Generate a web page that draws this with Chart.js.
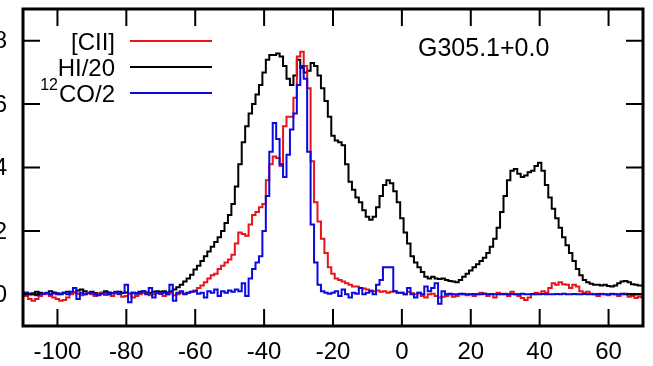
<!DOCTYPE html>
<html>
<head>
<meta charset="utf-8">
<script src="https://cdn.jsdelivr.net/npm/chart.js@4.4.0/dist/chart.umd.min.js"></script>
<style>
  html, body { margin: 0; padding: 0; background: #fff; }
  #wrap { position: relative; width: 653px; height: 366px; overflow: hidden; }
  #inner { position: absolute; left: -14px; top: 0; width: 667px; height: 366px; }
</style>
</head>
<body>
<div id="wrap"><div id="inner"><canvas id="spec"></canvas></div></div>
<script>
// velocity channels (km/s)
const velocities = [
  -110, -109, -108, -107, -106, -105, -104, -103, -102, -101,
  -100, -99, -98, -97, -96, -95, -94, -93, -92, -91,
  -90, -89, -88, -87, -86, -85, -84, -83, -82, -81,
  -80, -79, -78, -77, -76, -75, -74, -73, -72, -71,
  -70, -69, -68, -67, -66, -65, -64, -63, -62, -61,
  -60, -59, -58, -57, -56, -55, -54, -53, -52, -51,
  -50, -49, -48, -47, -46, -45, -44, -43, -42, -41,
  -40, -39, -38, -37, -36, -35, -34, -33, -32, -31,
  -30, -29, -28, -27, -26, -25, -24, -23, -22, -21,
  -20, -19, -18, -17, -16, -15, -14, -13, -12, -11,
  -10, -9, -8, -7, -6, -5, -4, -3, -2, -1,
  0, 1, 2, 3, 4, 5, 6, 7, 8, 9,
  10, 11, 12, 13, 14, 15, 16, 17, 18, 19,
  20, 21, 22, 23, 24, 25, 26, 27, 28, 29,
  30, 31, 32, 33, 34, 35, 36, 37, 38, 39,
  40, 41, 42, 43, 44, 45, 46, 47, 48, 49,
  50, 51, 52, 53, 54, 55, 56, 57, 58, 59,
  60, 61, 62, 63, 64, 65, 66, 67, 68, 69,
  70
];

// [CII]
const ciiValues = [
  0.05, -0.05, -0.15, -0.2, -0.15, -0.05, 0.0, 0.02, -0.05, -0.1,
  -0.15, -0.2, -0.18, -0.1, 0.0, 0.05, 0.02, -0.03, 0.0, 0.05,
  0.0, -0.05, 0.02, 0.05, -0.02, 0.0, -0.05, 0.03, 0.0, -0.08,
  -0.05, 0.02, -0.1, -0.05, 0.0, 0.05, 0.02, -0.03, 0.0, 0.05,
  0.02, -0.05, 0.0, 0.05, -0.03, 0.0, 0.05, 0.02, 0.05, 0.08,
  0.12, 0.2, 0.28, 0.38, 0.5, 0.6, 0.65, 0.8, 0.9, 1.0,
  1.1, 1.25, 1.6, 1.95, 1.9, 1.85, 2.2, 2.5, 2.6, 2.75,
  2.85, 3.6, 4.1, 4.35, 4.3, 4.05, 5.3, 5.6, 5.6, 6.2,
  7.5, 7.65, 7.2, 6.5, 4.2, 2.9, 2.3, 1.75, 1.3, 0.85,
  0.65, 0.5, 0.45, 0.4, 0.35, 0.3, 0.25, 0.25, 0.2, 0.18,
  0.15, 0.12, 0.1, 0.12, 0.08, 0.1, 0.05, 0.08, 0.1, 0.05,
  0.05, 0.0, 0.08, 0.03, 0.0, 0.05, -0.05, -0.1, 0.0, 0.02,
  -0.05, -0.1, -0.08, -0.05, 0.0, -0.08, -0.05, 0.0, 0.02, -0.03,
  0.0, -0.05, 0.0, 0.05, 0.02, -0.05, 0.0, -0.1, 0.05, 0.0,
  0.02, -0.05, 0.08, 0.0, -0.05, -0.12, -0.18, -0.1, 0.0, 0.05,
  0.02, 0.1, 0.05, 0.2, 0.35, 0.3, 0.38, 0.32, 0.3, 0.2,
  0.3, 0.25, 0.1, 0.05, 0.08, 0.02, 0.0, -0.05, 0.02, 0.0,
  -0.03, 0.02, 0.0, -0.05, 0.0, 0.02, -0.08, -0.05, -0.12, -0.08,
  -0.1
];

// HI/20
const hiValues = [
  0.02, 0.05, 0.0, 0.03, 0.08, 0.05, 0.02, 0.04, 0.1, 0.06,
  0.03, 0.0, 0.05, 0.08, 0.02, 0.06, 0.12, 0.15, 0.1, 0.05,
  0.08, 0.04, 0.02, 0.05, 0.1, 0.06, 0.03, 0.05, 0.08, 0.04,
  0.06, 0.02, 0.05, 0.03, 0.08, 0.1, 0.06, 0.04, 0.08, 0.1,
  0.08, 0.1, 0.06, 0.1, 0.15, 0.22, 0.3, 0.4, 0.5, 0.62,
  0.78, 0.9, 1.05, 1.2, 1.35, 1.5, 1.65, 1.8, 2.0, 2.25,
  2.5, 2.85, 3.4, 4.1, 4.8, 5.3, 5.7, 6.0, 6.3, 6.6,
  7.0, 7.4, 7.55, 7.55, 7.6, 7.5, 7.2, 6.8, 6.6, 6.9,
  7.4, 7.15, 7.0, 7.05, 7.3, 7.2, 6.9, 6.5, 6.1, 5.6,
  5.0, 4.85, 4.8, 4.7, 4.1, 3.55, 3.3, 3.05, 2.9, 2.65,
  2.45, 2.35, 2.45, 2.75, 3.1, 3.45, 3.6, 3.5, 3.25, 2.9,
  2.4, 1.95, 1.6, 1.2, 1.0, 0.85, 0.7, 0.55, 0.5, 0.55,
  0.5, 0.48, 0.5, 0.45, 0.42, 0.4, 0.38, 0.45, 0.55, 0.65,
  0.75, 0.85, 0.95, 1.05, 1.15, 1.3, 1.5, 1.75, 2.1, 2.6,
  3.1, 3.6, 3.9, 3.95, 3.8, 3.7, 3.75, 3.85, 3.9, 4.05,
  4.15, 3.9, 3.45, 3.05, 2.7, 2.4, 2.1, 1.8, 1.55, 1.3,
  1.05, 0.8, 0.6, 0.45, 0.38, 0.33, 0.3, 0.3, 0.28, 0.3,
  0.26, 0.25, 0.28, 0.35, 0.4, 0.42, 0.38, 0.32, 0.3, 0.28,
  0.28
];

// 12CO/2
const coValues = [
  0.0, 0.05, 0.02, 0.0, -0.03, 0.0, 0.02, 0.05, 0.0, 0.03,
  0.0, 0.02, 0.05, 0.0, 0.08, 0.2, -0.15, 0.05, 0.0, 0.03,
  0.05, 0.0, -0.03, 0.02, 0.05, 0.0, 0.03, 0.08, 0.02, 0.05,
  0.3, -0.25, 0.05, 0.02, 0.05, 0.1, 0.0, 0.2, -0.1, 0.05,
  0.02, 0.05, 0.0, 0.3, -0.2, 0.05, 0.1, 0.0, 0.05, 0.08,
  0.1, 0.02, 0.05, -0.1, 0.1, 0.05, 0.15, -0.05, 0.1, 0.05,
  0.12, 0.08, 0.15, 0.1, 0.35, -0.05, 0.5, 0.8, 1.0, 1.2,
  2.0, 3.1, 4.5, 5.4, 4.9, 4.1, 3.7, 4.4, 5.2, 5.7,
  6.6, 7.2, 6.8, 4.5, 2.2, 1.0, 0.3, 0.1, 0.05, 0.02,
  0.05, 0.1, -0.05, 0.15, 0.0, -0.1, 0.05, 0.02, 0.2, 0.0,
  0.05, 0.1, 0.0, 0.3, 0.45, 0.85, 0.85, 0.85, 0.1, 0.05,
  0.05, 0.0, 0.2, 0.0, -0.1, 0.05, 0.0, 0.25, 0.1, 0.2,
  0.35, -0.3, 0.1, 0.0, 0.02, 0.0, 0.0, 0.02, 0.0, 0.0,
  0.0, 0.01, 0.0, 0.0, 0.02, 0.0, 0.01, 0.0, 0.0, 0.01,
  0.0, 0.0, 0.01, 0.0, 0.0, 0.02, 0.0, 0.0, 0.01, 0.0,
  0.0, 0.01, 0.0, 0.0, 0.0, 0.01, 0.0, 0.02, 0.0, 0.0,
  0.01, 0.0, 0.0, 0.01, 0.0, 0.0, 0.0, 0.01, 0.0, 0.0,
  0.0, 0.01, 0.0, 0.0, 0.02, 0.0, 0.0, 0.01, 0.0, 0.0,
  0.0
];

const xTickValues = [-100, -80, -60, -40, -20, 0, 20, 40, 60];
const yTickValues = [0, 2, 4, 6, 8];
const seriesLabels = ['[CII]', 'HI/20', 'CO/2'];
const coPrefix = '12';
const regionLabel = 'G305.1+0.0';

const FONT = '"Liberation Sans", Arial, Helvetica, sans-serif';
const SHIFT = 14; // canvas sits this far left of the page, so the y labels get cut like the original

const toPoints = values => velocities.map((v, i) => ({ x: v, y: values[i] }));

// box frame with inward ticks on all four sides, plus the y tick labels
const framePlugin = {
  id: 'frame',
  afterDraw(chart) {
    const { ctx, chartArea: a, scales: { x, y } } = chart;
    const len = 17;
    ctx.save();
    ctx.strokeStyle = '#000';
    ctx.lineWidth = 2;
    ctx.beginPath();
    x.ticks.forEach(t => {
      const px = x.getPixelForValue(t.value);
      ctx.moveTo(px, a.bottom); ctx.lineTo(px, a.bottom - len);
      ctx.moveTo(px, a.top); ctx.lineTo(px, a.top + len);
    });
    y.ticks.forEach(t => {
      const py = y.getPixelForValue(t.value);
      ctx.moveTo(a.left, py); ctx.lineTo(a.left + len, py);
      ctx.moveTo(a.right, py); ctx.lineTo(a.right - len, py);
    });
    ctx.stroke();
    ctx.lineWidth = 3;
    ctx.strokeRect(a.left, a.top, a.right - a.left, a.bottom - a.top);

    ctx.fillStyle = '#000';
    ctx.font = '24px ' + FONT;
    ctx.textAlign = 'right';
    ctx.textBaseline = 'middle';
    y.ticks.forEach(t => {
      ctx.fillText(String(t.value), a.left - 16, y.getPixelForValue(t.value) + 1);
    });
    ctx.restore();
  }
};

// legend: right-aligned text with a line sample after it, plus the region name
const notesPlugin = {
  id: 'notes',
  afterDraw(chart) {
    const ctx = chart.ctx;
    const rowsY = [41, 67, 93];
    const textRight = 115 + SHIFT;
    ctx.save();
    ctx.textBaseline = 'middle';
    ctx.textAlign = 'right';
    chart.data.datasets.forEach((ds, row) => {
      const yy = rowsY[row];
      ctx.font = '24px ' + FONT;
      ctx.fillStyle = '#000';
      ctx.fillText(seriesLabels[row], textRight, yy + 2);
      if (row === 2) {
        const w = ctx.measureText(seriesLabels[row]).width;
        ctx.font = '16px ' + FONT;
        ctx.fillText(coPrefix, textRight - w - 1, yy - 7);
      }
      ctx.strokeStyle = ds.borderColor;
      ctx.lineWidth = 2;
      ctx.beginPath();
      ctx.moveTo(130 + SHIFT, yy);
      ctx.lineTo(212 + SHIFT, yy);
      ctx.stroke();
    });
    ctx.textAlign = 'left';
    ctx.textBaseline = 'alphabetic';
    ctx.font = '25px ' + FONT;
    ctx.fillStyle = '#000';
    ctx.fillText(regionLabel, 418 + SHIFT, 56);
    ctx.restore();
  }
};

const ctxEl = document.getElementById('spec');
new Chart(ctxEl, {
  type: 'line',
  data: {
    datasets: [
      {
        label: '[CII]',
        data: toPoints(ciiValues),
        borderColor: '#e8141a',
        borderWidth: 2,
        stepped: 'middle',
        pointRadius: 0,
        order: 1
      },
      {
        label: 'HI/20',
        data: toPoints(hiValues),
        borderColor: '#000000',
        borderWidth: 2,
        stepped: 'middle',
        pointRadius: 0,
        order: 2
      },
      {
        label: '12CO/2',
        data: toPoints(coValues),
        borderColor: '#0a0ae0',
        borderWidth: 2,
        stepped: 'middle',
        pointRadius: 0,
        order: 0
      }
    ]
  },
  options: {
    responsive: true,
    maintainAspectRatio: false,
    animation: false,
    layout: { padding: { top: 9, right: 10, left: 0, bottom: 0 } },
    plugins: {
      legend: { display: false },
      tooltip: { enabled: false }
    },
    scales: {
      x: {
        type: 'linear',
        min: -110,
        max: 70,
        grid: { display: false },
        border: { display: false },
        afterBuildTicks: scale => { scale.ticks = xTickValues.map(v => ({ value: v })); },
        afterFit: scale => {
          scale.height = 40;
          scale.paddingLeft = 0;
          scale.paddingRight = 0;
        },
        ticks: {
          autoSkip: false,
          maxRotation: 0,
          minRotation: 0,
          padding: 4,
          color: '#000',
          font: { family: FONT, size: 24 },
          callback: v => String(v)
        }
      },
      y: {
        type: 'linear',
        min: -1,
        max: 9,
        grid: { display: false },
        border: { display: false },
        afterBuildTicks: scale => { scale.ticks = yTickValues.map(v => ({ value: v })); },
        afterFit: scale => {
          scale.width = 23 + SHIFT;
          scale.paddingTop = 0;
          scale.paddingBottom = 0;
        },
        ticks: { display: false }
      }
    }
  },
  plugins: [framePlugin, notesPlugin]
});
</script>
</body>
</html>
